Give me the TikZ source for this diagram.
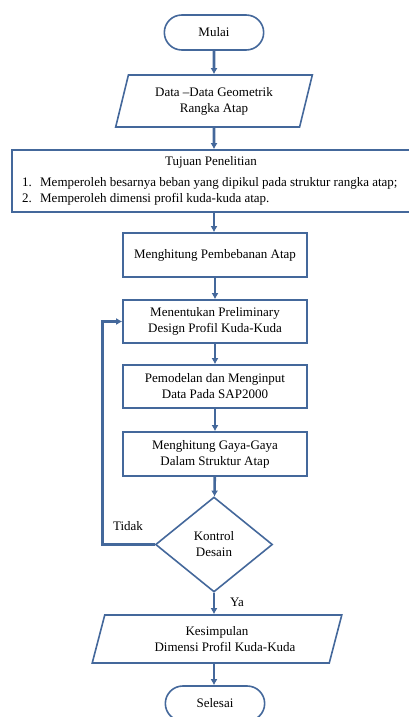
\documentclass[tikz,border=0pt]{standalone}
\usepackage{fontspec}
\setmainfont{Liberation Serif}
\usepackage{tikz}
\usetikzlibrary{calc}
\usetikzlibrary{arrows.meta}
\usetikzlibrary{shapes.geometric}
\usetikzlibrary{shapes.misc}
\definecolor{flowblue}{RGB}{68,104,155}
\tikzset{>={Latex[length=6pt,width=7pt]}}
\tikzset{
  txt/.style={font=\fontsize{13}{16}\selectfont,align=center},
  terminal/.style={txt,rounded rectangle,draw=flowblue,line width=1.6pt,minimum width=106pt,minimum height=35pt},
  process/.style={txt,rectangle,draw=flowblue,line width=1.6pt,minimum width=184pt,minimum height=44pt},
  inout/.style={txt,trapezium,trapezium stretches=true,draw=flowblue,line width=1.6pt},
  decision/.style={txt,diamond,draw=flowblue,line width=1.6pt,minimum width=117pt,minimum height=95pt,inner sep=0pt,aspect=1.23},
  flow/.style={->,draw=flowblue,line width=2.6pt}
}
\begin{document}
\begin{tikzpicture}[x=1pt,y=-1pt]
\useasboundingbox (0,0) rectangle (409,717);
\node[terminal] (mulai) at (214,32.5) {Mulai};
\node[inout,trapezium left angle=75,trapezium right angle=105,minimum width=197pt,minimum height=52pt] (data) at (214,101) {Data –Data Geometrik\\Rangka Atap};
\node[draw=flowblue,line width=1.6pt,minimum width=404pt,minimum height=62pt] (tujuan) at (214,181) {};
\node[txt] (judul) at (211,162) {Tujuan Penelitian};
\node[txt,anchor=west,inner sep=0pt] (poin1) at (22,183) {\makebox[18pt][l]{1.}Memperoleh besarnya beban yang dipikul pada struktur rangka atap;};
\node[txt,anchor=west,inner sep=0pt] (poin2) at (22,199) {\makebox[18pt][l]{2.}Memperoleh dimensi profil kuda-kuda atap.};
\node[process] (beban) at (215,255) {Menghitung Pembebanan Atap};
\node[process,minimum height=43pt] (desain) at (215,321.5) {Menentukan Preliminary\\Design Profil Kuda-Kuda};
\node[process,minimum height=43pt] (sap) at (215,386.5) {Pemodelan dan Menginput\\Data Pada SAP2000};
\node[process] (gaya) at (215,454) {Menghitung Gaya-Gaya\\Dalam Struktur Atap};
\node[decision] (kontrol) at (214,544.5) {Kontrol\\Desain};
\node[inout,trapezium left angle=74,trapezium right angle=106,minimum width=250pt,minimum height=48pt] (simpul) at (217,639) {Kesimpulan\\\hspace*{16pt}Dimensi Profil Kuda-Kuda};
\node[terminal] (selesai) at (215,703.5) {Selesai};

\draw[flow] (mulai) -- (data);
\draw[flow] (data) -- (data |- tujuan.north);
\draw[flow] (data |- tujuan.south) -- (data |- beban.north);
\draw[flow] (beban) -- (desain);
\draw[flow] (desain) -- (sap);
\draw[flow] (sap) -- (gaya);
\draw[flow] (gaya) -- (kontrol);
\draw[flow] (kontrol.south) -- (kontrol |- simpul.north);
\draw[flow] (kontrol |- simpul.south) -- (kontrol |- selesai.north);
\draw[flow] (kontrol.west) -- ++(-52,0) |- (desain.west);
\node[txt] (tidak) at (128,526) {Tidak};
\node[txt] (ya) at (237,602) {Ya};
\end{tikzpicture}
\end{document}
